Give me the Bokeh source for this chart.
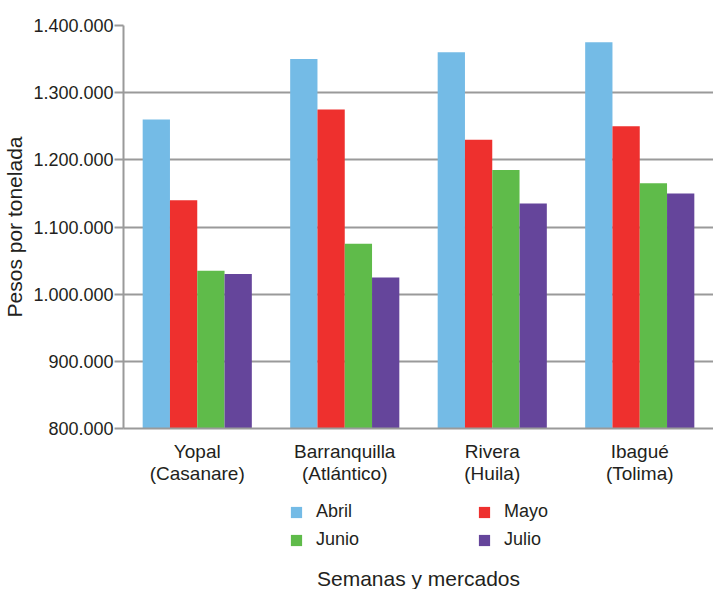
from bokeh.plotting import figure
from bokeh.models import (FactorRange, Range1d, FixedTicker, Legend, LegendItem,
                          Label, ColumnDataSource)
from bokeh.layouts import column
from bokeh.transform import dodge
from bokeh.embed import file_html
from bokeh.resources import INLINE

markets = ["Yopal\n(Casanare)", "Barranquilla\n(Atlántico)", "Rivera\n(Huila)", "Ibagué\n(Tolima)"]
months = ["Abril", "Mayo", "Junio", "Julio"]
abril = [1260000, 1350000, 1360000, 1375000]
mayo = [1140000, 1275000, 1230000, 1250000]
junio = [1035000, 1075000, 1185000, 1165000]
julio = [1030000, 1025000, 1135000, 1150000]
colors = ["#74BBE6", "#EE302E", "#5FBB4A", "#65459B"]
y_ticks = [800000, 900000, 1000000, 1100000, 1200000, 1300000, 1400000]
y_tick_labels = ["800.000", "900.000", "1.000.000", "1.100.000", "1.200.000", "1.300.000", "1.400.000"]
x_title = "Semanas y mercados"
y_title = "Pesos por tonelada"

FONT = "Liberation Sans"
TXT = "#231F20"
GRID = "#9A9A9A"

source = ColumnDataSource(dict(market=markets, Abril=abril, Mayo=mayo, Junio=junio, Julio=julio))
x_range = FactorRange(factors=markets, range_padding=0)

# ---------------- main chart ----------------
p = figure(width=713, height=492, x_range=x_range,
           y_range=Range1d(800000, 1400000), output_backend="svg", toolbar_location=None,
           min_border_left=123, min_border_right=0, min_border_top=25, min_border_bottom=64)
p.outline_line_color = None
p.background_fill_color = "white"
p.border_fill_color = "white"

bw = 0.185
offsets = [-1.5 * bw, -0.5 * bw, 0.5 * bw, 1.5 * bw]
for m, c, off in zip(months, colors, offsets):
    p.vbar(x=dodge("market", off, range=p.x_range), top=m, bottom=800000, width=bw,
           source=source, fill_color=c, line_color=None)

p.yaxis.ticker = FixedTicker(ticks=y_ticks)
p.yaxis.major_label_overrides = {t: l for t, l in zip(y_ticks, y_tick_labels)}
p.yaxis.minor_tick_line_color = None
p.yaxis.major_tick_in = 0
p.yaxis.major_tick_out = 9
p.yaxis.major_tick_line_color = GRID
p.yaxis.major_tick_line_width = 2
p.yaxis.axis_line_color = GRID
p.yaxis.axis_line_width = 2
p.yaxis.major_label_text_font = FONT
p.yaxis.major_label_text_font_size = "18px"
p.yaxis.major_label_text_color = TXT
p.yaxis.major_label_standoff = 1
p.yaxis.axis_label = y_title
p.yaxis.axis_label_text_font = FONT
p.yaxis.axis_label_text_font_size = "21px"
p.yaxis.axis_label_text_font_style = "normal"
p.yaxis.axis_label_text_color = TXT
p.yaxis.axis_label_standoff = 4

p.xaxis.major_tick_line_color = None
p.xaxis.minor_tick_line_color = None
p.xaxis.axis_line_color = GRID
p.xaxis.axis_line_width = 2
p.xaxis.major_label_text_font = FONT
p.xaxis.major_label_text_font_size = "19px"
p.xaxis.major_label_text_color = TXT
p.xaxis.major_label_text_line_height = 1.05
p.xaxis.major_label_standoff = 6

p.xgrid.grid_line_color = None
p.ygrid.grid_line_color = GRID
p.ygrid.grid_line_width = 2

# ---------------- legend + x title strip ----------------
p2 = figure(width=713, height=97, x_range=x_range, y_range=Range1d(0, 1),
            output_backend="svg", toolbar_location=None,
            x_axis_location=None, y_axis_location=None,
            min_border_left=0, min_border_right=0, min_border_top=0, min_border_bottom=0)
p2.outline_line_color = None
p2.grid.visible = False
p2.background_fill_color = "white"
p2.border_fill_color = "white"

key_renderers = []
for m, c, off in zip(months, colors, offsets):
    r = p2.vbar(x=dodge("market", off, range=p2.x_range), top=m, bottom=800000, width=bw,
                source=source, fill_color=c, line_color=None, visible=False)
    key_renderers.append(r)


def make_legend(idx, loc):
    lg = Legend(items=[LegendItem(label=months[i], renderers=[key_renderers[i]]) for i in idx],
                orientation="horizontal", location=loc)
    lg.border_line_color = None
    lg.background_fill_alpha = 0
    lg.padding = 0
    lg.margin = 0
    lg.spacing = 115
    lg.glyph_width = 14
    lg.glyph_height = 14
    lg.label_height = 20
    lg.label_width = 46
    lg.label_standoff = 13
    lg.label_text_font = FONT
    lg.label_text_font_size = "18px"
    lg.label_text_color = TXT
    return lg


p2.add_layout(make_legend([0, 1], (166, 67)), "center")
p2.add_layout(make_legend([2, 3], (166, 39)), "center")

p2.add_layout(Label(x=295, y=11, x_units="screen", y_units="screen", text=x_title,
                    text_font=FONT, text_font_size="21px", text_color=TXT,
                    text_align="center", text_baseline="middle"))

layout = column(p, p2, spacing=0)
open("out.html", "w").write(file_html(layout, INLINE))
